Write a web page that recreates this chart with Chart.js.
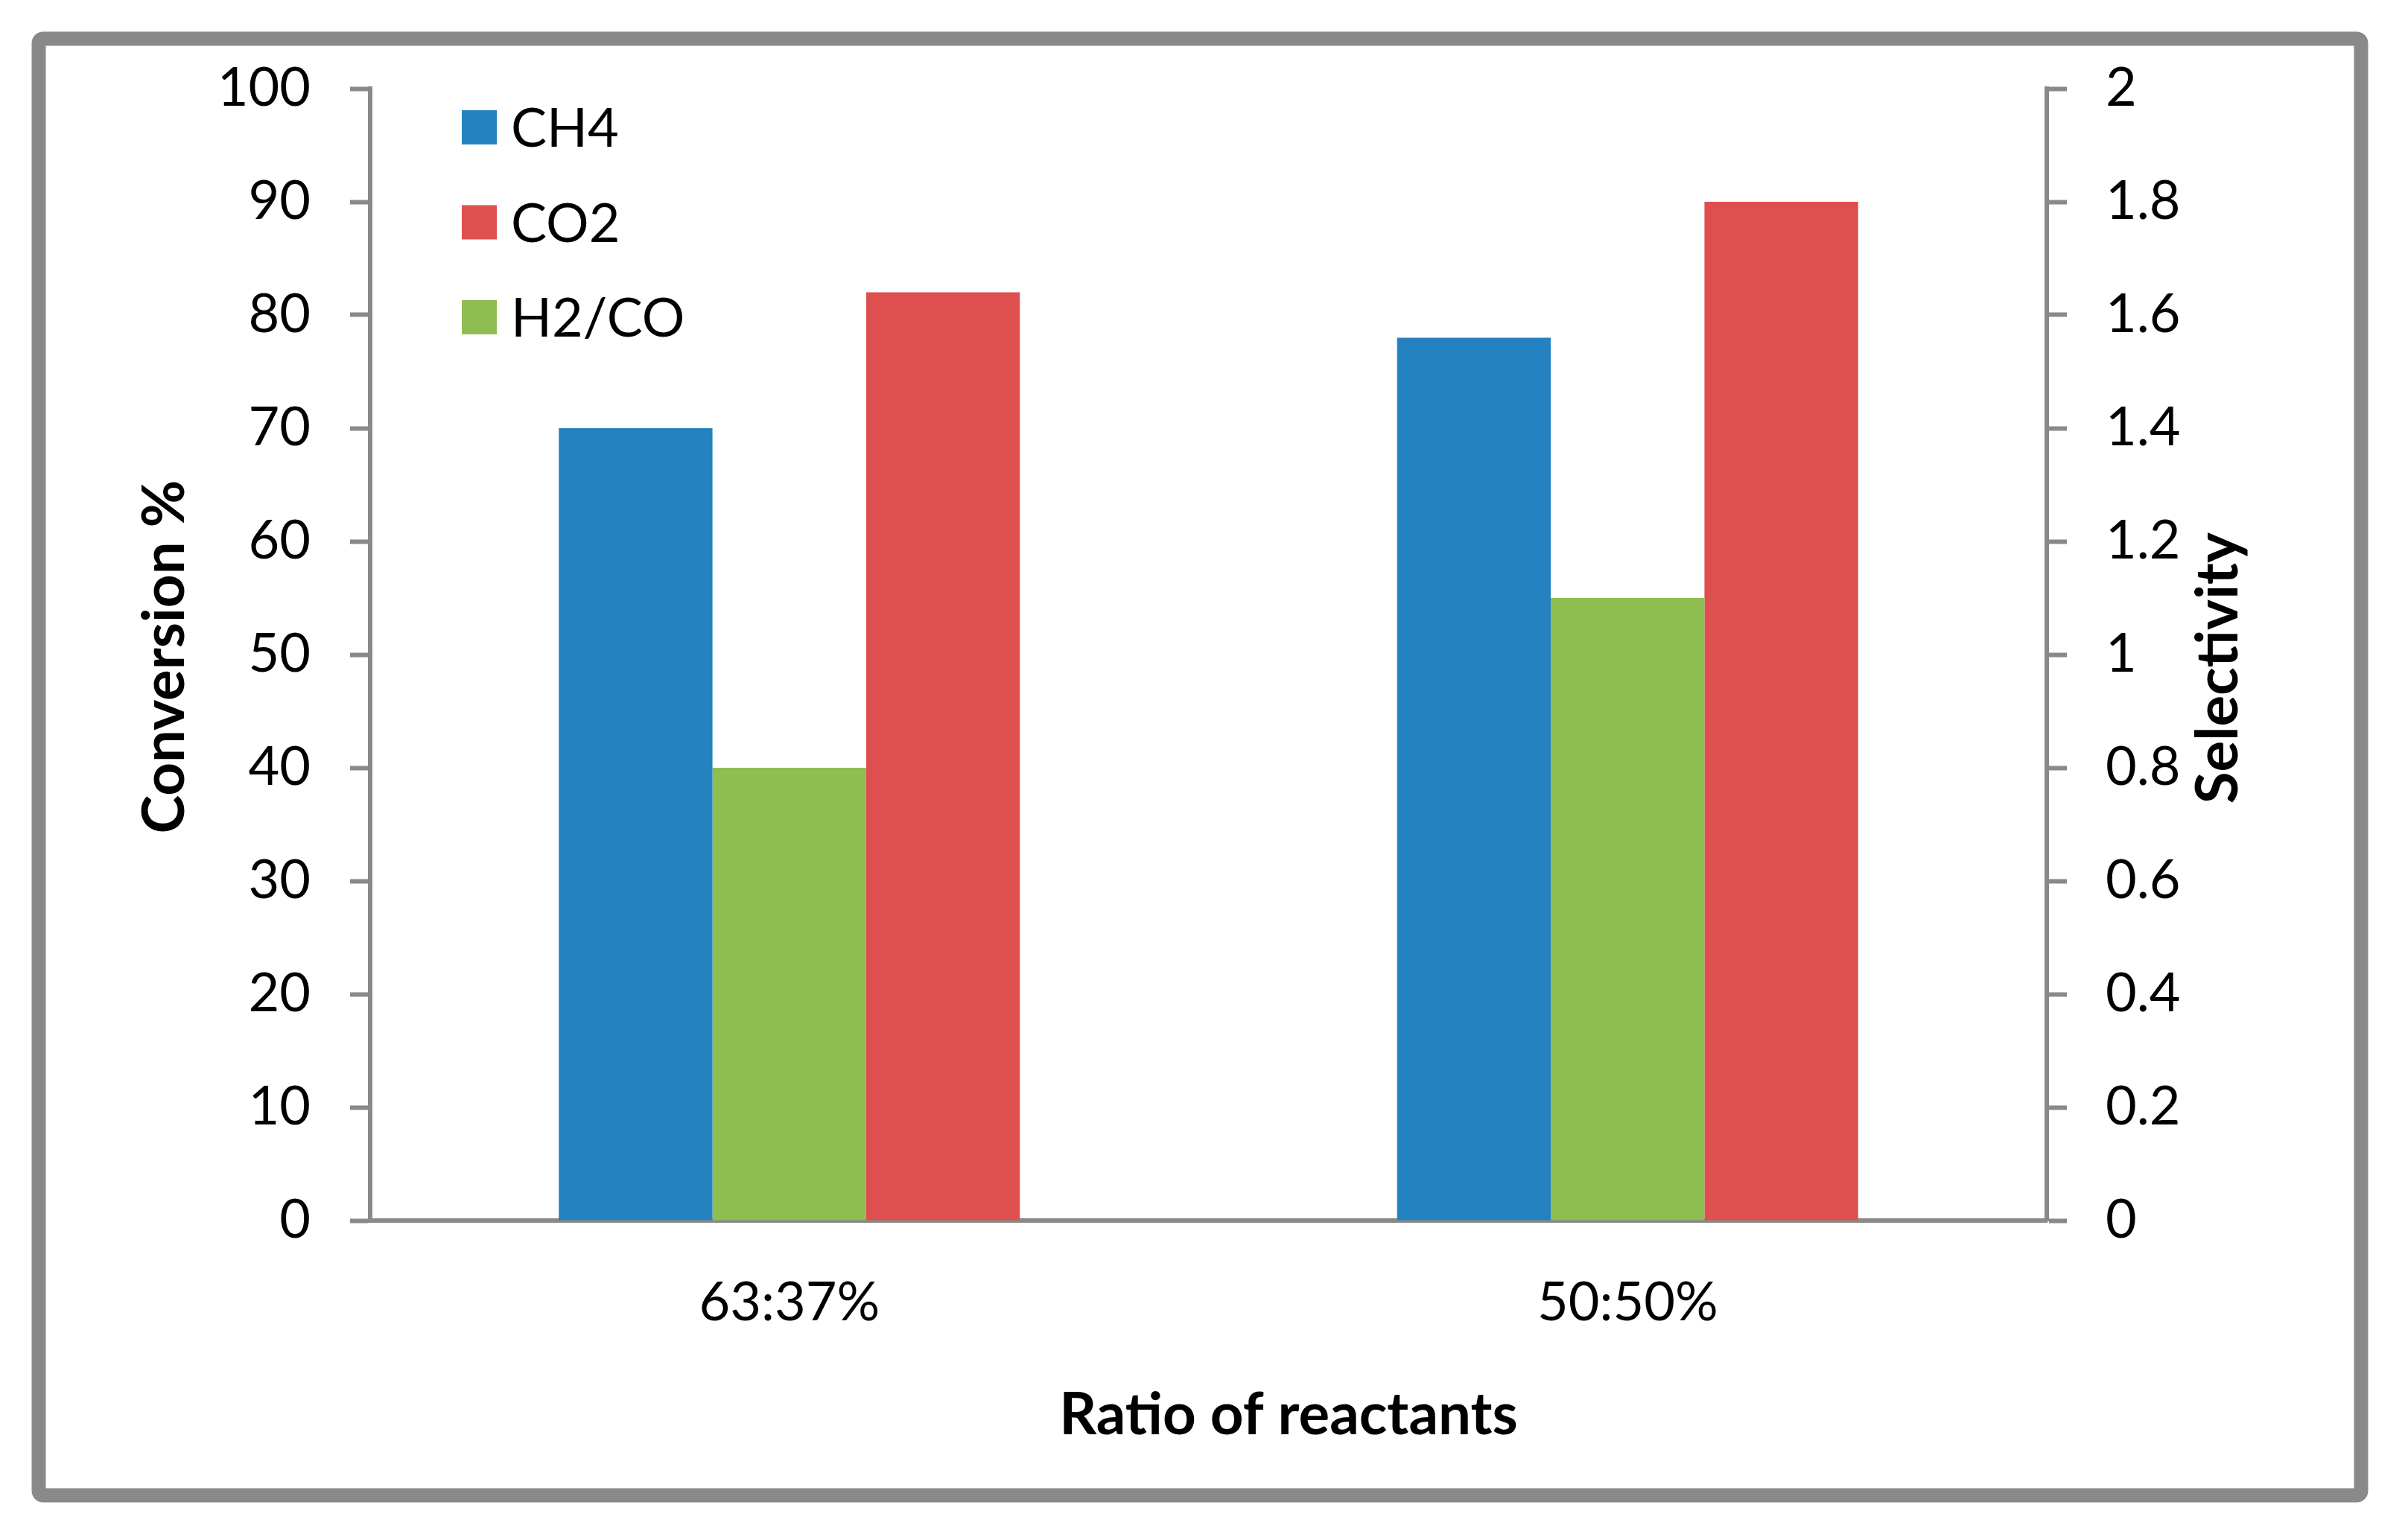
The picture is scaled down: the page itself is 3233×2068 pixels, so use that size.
<!DOCTYPE html>
<html>
<head>
<meta charset="utf-8">
<title>Conversion and selectivity vs ratio of reactants</title>
<script src="https://cdn.jsdelivr.net/npm/chart.js@4.4.1/dist/chart.umd.min.js"></script>
<style>
    html, body { margin: 0; padding: 0; background: #fff; }
    #chartWrap { width: 3233px; height: 2068px; }
</style>
</head>
<body>
<div id="chartWrap">
    <canvas id="ratioChart" width="3233" height="2068"></canvas>
</div>
<script>
// data
const categories = ['63:37%', '50:50%'];
const ch4Conversion = [70, 78];
const co2Conversion = [82, 90];
const h2coSelectivity = [0.8, 1.1];
const legendOrder = ['CH4', 'CO2', 'H2/CO'];

const AXIS_GRAY = '#898989';
const FONT = 'Lato';

// frame, axis titles and the legend are drawn by hand
const decorPlugin = {
    id: 'decor',
    beforeDraw(chart) {
        const ctx = chart.ctx;
        ctx.save();
        ctx.fillStyle = '#fff';
        ctx.fillRect(0, 0, chart.width, chart.height);
        ctx.strokeStyle = AXIS_GRAY;
        ctx.lineWidth = 19;
        ctx.beginPath();
        ctx.roundRect(52, 52, 3170 - 52, 2008 - 52, 6);
        ctx.stroke();
        ctx.restore();
    },
    afterDraw(chart) {
        const ctx = chart.ctx;
        ctx.save();
        ctx.fillStyle = '#000';
        ctx.font = 'bold 78px ' + FONT;
        ctx.textAlign = 'center';
        ctx.textBaseline = 'alphabetic';

        ctx.fillText('Ratio of reactants', 1730, 1926);

        ctx.save();
        ctx.translate(247, 882);
        ctx.rotate(-Math.PI / 2);
        ctx.fillText('Conversion %', 0, 0);
        ctx.restore();

        ctx.save();
        ctx.translate(3004, 897);
        ctx.rotate(-Math.PI / 2);
        ctx.fillText('Selectivity', 0, 0);
        ctx.restore();

        // legend
        ctx.font = '72px ' + FONT;
        ctx.textAlign = 'left';
        ctx.textBaseline = 'middle';
        legendOrder.forEach((name, i) => {
            const ds = chart.data.datasets.find(d => d.label === name);
            const top = 148 + i * 127.5;
            ctx.fillStyle = ds.backgroundColor;
            ctx.fillRect(620, top, 47, 46);
            ctx.fillStyle = '#000';
            ctx.fillText(name, 686, top + 26);
        });
        ctx.restore();
    }
};

new Chart(document.getElementById('ratioChart'), {
    type: 'bar',
    data: {
        labels: categories,
        datasets: [
            {
                label: 'CH4',
                data: ch4Conversion,
                backgroundColor: '#2582C1',
                yAxisID: 'y'
            },
            {
                label: 'H2/CO',
                data: h2coSelectivity,
                backgroundColor: '#8EBE52',
                yAxisID: 'y1'
            },
            {
                label: 'CO2',
                data: co2Conversion,
                backgroundColor: '#DE504F',
                yAxisID: 'y'
            }
        ]
    },
    options: {
        responsive: false,
        devicePixelRatio: 1,
        animation: false,
        layout: {
            padding: { left: 292, right: 235, top: 119, bottom: 229 }
        },
        datasets: {
            bar: {
                categoryPercentage: 0.55,
                barPercentage: 1.0,
                borderWidth: 0
            }
        },
        plugins: {
            legend: { display: false },
            tooltip: { enabled: false }
        },
        scales: {
            x: {
                afterFit(scale) { scale.height = 200; },
                grid: { display: true, drawOnChartArea: false, drawTicks: false },
                border: { color: AXIS_GRAY, width: 6 },
                ticks: {
                    color: '#000',
                    padding: 68,
                    font: { family: FONT, size: 72 }
                }
            },
            y: {
                position: 'left',
                min: 0,
                max: 100,
                afterFit(scale) { scale.width = 205; },
                grid: {
                    drawOnChartArea: false,
                    drawTicks: true,
                    tickLength: 27,
                    tickWidth: 6,
                    tickColor: AXIS_GRAY
                },
                border: { color: AXIS_GRAY, width: 6 },
                ticks: {
                    stepSize: 10,
                    color: '#000',
                    padding: 53,
                    font: { family: FONT, size: 72 }
                }
            },
            y1: {
                position: 'right',
                min: 0,
                max: 2,
                afterFit(scale) { scale.width = 250; },
                grid: {
                    drawOnChartArea: false,
                    drawTicks: true,
                    tickLength: 27,
                    tickWidth: 6,
                    tickColor: AXIS_GRAY
                },
                border: { color: AXIS_GRAY, width: 6 },
                ticks: {
                    stepSize: 0.2,
                    color: '#000',
                    padding: 52,
                    font: { family: FONT, size: 72 },
                    // Excel style: 1 and 2 without trailing zero
                    callback: function(value) {
                        return String(Math.round(value * 10) / 10);
                    }
                }
            }
        }
    },
    plugins: [decorPlugin]
});
</script>
</body>
</html>
